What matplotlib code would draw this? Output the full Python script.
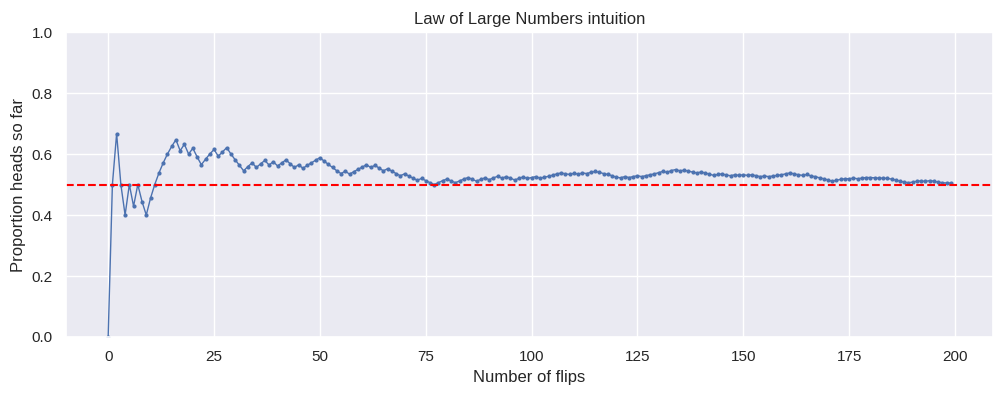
import matplotlib
matplotlib.use("Agg")
import matplotlib.pyplot as plt
import seaborn as sns

sns.set_theme(style="darkgrid")
plt.rcParams["font.family"] = ["Liberation Sans", "DejaVu Sans"]

# Running proportion of heads after each flip (flip index 0..199)
proportion_early = [
    0.0, 0.5, 0.667, 0.5, 0.4, 0.5, 0.429, 0.5, 0.444, 0.4,
    0.455, 0.5, 0.538, 0.571, 0.6, 0.625, 0.647, 0.611, 0.632, 0.6,
    0.619, 0.591, 0.565, 0.583, 0.6, 0.615, 0.593, 0.607, 0.621, 0.6,
    0.581, 0.563, 0.545, 0.559, 0.571, 0.556, 0.568, 0.579, 0.564, 0.575,
    0.561, 0.571, 0.581, 0.568, 0.556, 0.565, 0.553, 0.563, 0.571, 0.58,
    0.588, 0.577, 0.566, 0.556, 0.545, 0.536, 0.544, 0.534, 0.542, 0.55,
    0.557, 0.565, 0.556, 0.563, 0.554, 0.545, 0.552, 0.544, 0.536, 0.529,
    0.535, 0.528, 0.521, 0.514, 0.52, 0.513, 0.506, 0.5, 0.506,
]
proportion_late = [
    0.513, 0.518, 0.512, 0.506, 0.512, 0.518, 0.523, 0.517, 0.511, 0.517,
    0.522, 0.516, 0.522, 0.527, 0.521, 0.526, 0.521, 0.515, 0.520, 0.525,
    0.520, 0.523, 0.526, 0.521, 0.524, 0.527, 0.531, 0.535, 0.538, 0.535,
    0.533, 0.537, 0.534, 0.538, 0.536, 0.540, 0.543, 0.540, 0.536, 0.533,
    0.529, 0.524, 0.522, 0.526, 0.523, 0.526, 0.529, 0.526, 0.529, 0.532,
    0.535, 0.539, 0.543, 0.540, 0.546, 0.549, 0.545, 0.547, 0.544, 0.541,
    0.538, 0.541, 0.538, 0.534, 0.530, 0.533, 0.535, 0.531, 0.529, 0.532,
    0.530, 0.532, 0.530, 0.532, 0.529, 0.526, 0.528, 0.526, 0.528, 0.530,
    0.532, 0.535, 0.538, 0.535, 0.532, 0.530, 0.533, 0.528, 0.526, 0.522,
    0.519, 0.515, 0.511, 0.514, 0.517, 0.519, 0.519, 0.521, 0.519, 0.521,
    0.523, 0.523, 0.522, 0.521, 0.521, 0.520, 0.518, 0.515, 0.511, 0.508,
    0.506, 0.508, 0.511, 0.512, 0.510, 0.513, 0.511, 0.508, 0.506, 0.505,
    0.505,
]
proportion = proportion_early + proportion_late
flips = list(range(len(proportion)))
fair_value = 0.5

title = "Law of Large Numbers intuition"
xlabel = "Number of flips"
ylabel = "Proportion heads so far"

fig, ax = plt.subplots(figsize=(10.05, 3.96), dpi=100)
fig.subplots_adjust(left=0.0657, right=0.988, top=0.919, bottom=0.149)

ax.plot(flips, proportion, marker="o", markersize=2, linewidth=1, color="#4C72B0")
ax.axhline(fair_value, color="red", linestyle="--", linewidth=1.5)
ax.set_ylim(0, 1)
ax.set_title(title)
ax.set_xlabel(xlabel)
ax.set_ylabel(ylabel)

fig.savefig("out.png", dpi=100)
